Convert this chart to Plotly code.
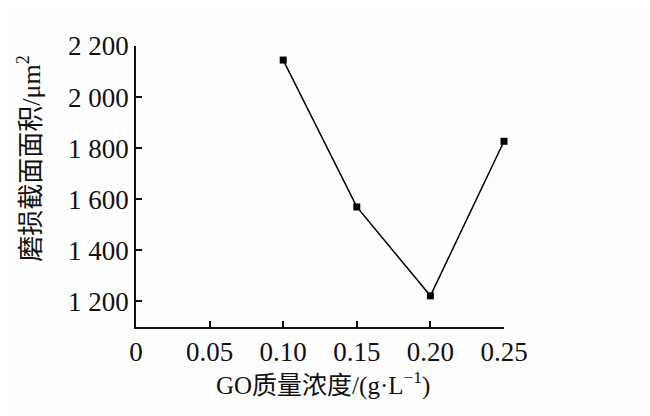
import plotly.graph_objects as go

# 数据
go_conc = [0.10, 0.15, 0.20, 0.25]
wear_area = [2145, 1570, 1222, 1827]

x_ticks = [0, 0.05, 0.10, 0.15, 0.20, 0.25]
x_ticktext = ["0", "0.05", "0.10", "0.15", "0.20", "0.25"]
y_ticks = [1200, 1400, 1600, 1800, 2000, 2200]
y_ticktext = ["1 200", "1 400", "1 600", "1 800", "2 000", "2 200"]

FONT = "Liberation Serif, Noto Sans CJK SC, serif"

fig = go.Figure()
fig.add_trace(go.Scatter(
    x=go_conc,
    y=wear_area,
    mode="lines+markers",
    line=dict(color="black", width=1.5),
    marker=dict(symbol="square", size=7, color="black"),
    showlegend=False,
    cliponaxis=False,
))

axis_style = dict(
    ticks="inside",
    ticklen=6,
    tickwidth=1.5,
    tickcolor="#111",
    showline=True,
    linecolor="#111",
    linewidth=1.5,
    showgrid=False,
    zeroline=False,
    automargin=False,
    tickfont=dict(family=FONT, size=27, color="#111"),
)

# 页面 body 有 8px 的默认边距, 所以左/上边距各减 8
fig.update_layout(
    width=650,
    height=416,
    paper_bgcolor="#fdfdfd",
    plot_bgcolor="#fdfdfd",
    margin=dict(l=128, r=154, t=38, b=97),
    font=dict(family=FONT, size=24, color="#111"),
    xaxis=dict(range=[0, 0.25], tickvals=x_ticks, ticktext=x_ticktext, **axis_style),
    yaxis=dict(range=[1100, 2200], tickvals=y_ticks, ticktext=y_ticktext, **axis_style),
    annotations=[
        dict(
            text="GO质量浓度/(g·L<sup>−1</sup>)",
            xref="paper", yref="paper",
            x=0.508, y=-0.2,
            xanchor="center", yanchor="middle",
            showarrow=False,
            font=dict(family=FONT, size=25, color="#111"),
        ),
        dict(
            text="磨损截面面积/μm<sup>2</sup>",
            xref="paper", yref="paper",
            x=-0.29, y=0.6,
            xanchor="center", yanchor="middle",
            textangle=-90,
            showarrow=False,
            font=dict(family=FONT, size=26, color="#111"),
        ),
    ],
)

fig.write_html("out.html")
